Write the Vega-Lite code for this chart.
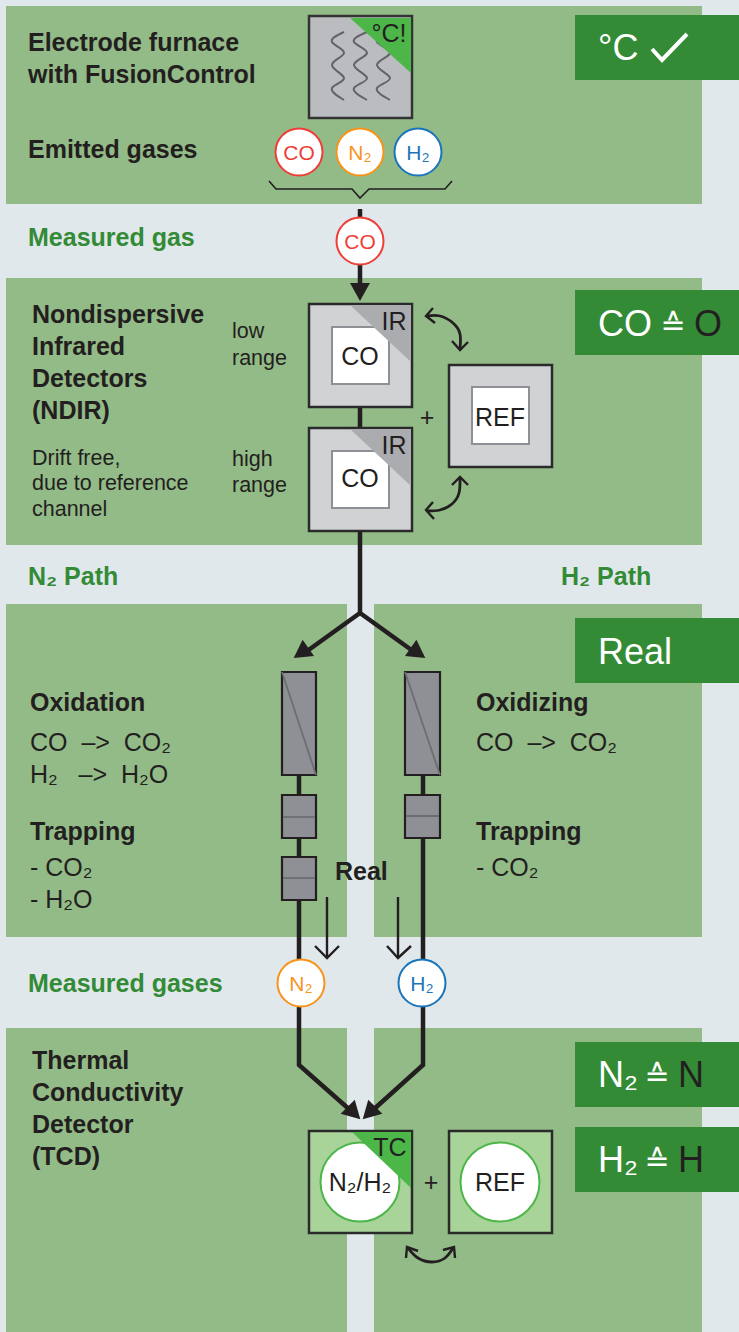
{"$schema":"https://vega.github.io/schema/vega-lite/v6.json","width":739,"height":1332,"padding":0,"autosize":{"type":"none"},"background":"#E1E8EC","config":{"view":{"stroke":null}},
"datasets":{
"panels":[{"x":6,"x2":702,"y":6,"y2":204},{"x":6,"x2":702,"y":278,"y2":545},{"x":6,"x2":347,"y":604,"y2":937},{"x":374,"x2":702,"y":604,"y2":937},{"x":6,"x2":347,"y":1028,"y2":1332},{"x":374,"x2":702,"y":1028,"y2":1332}],
"callouts":[{"x":575,"x2":739,"y":15,"y2":80},{"x":575,"x2":739,"y":290,"y2":355},{"x":575,"x2":739,"y":618,"y2":683},{"x":575,"x2":739,"y":1042,"y2":1107},{"x":575,"x2":739,"y":1127,"y2":1192}],
"thick":[{"id":"a","i":1,"x":360,"y":209},{"id":"a","i":2,"x":360,"y":285},{"id":"b","i":1,"x":360,"y":405},{"id":"b","i":2,"x":360,"y":430},{"id":"c","i":1,"x":360,"y":530},{"id":"c","i":2,"x":360,"y":613},{"id":"d","i":1,"x":303,"y":654},{"id":"d","i":2,"x":360,"y":613},{"id":"d","i":3,"x":417,"y":654},{"id":"e","i":1,"x":299,"y":775},{"id":"e","i":2,"x":299,"y":1065},{"id":"e","i":3,"x":350,"y":1110},{"id":"f","i":1,"x":423,"y":775},{"id":"f","i":2,"x":423,"y":1065},{"id":"f","i":3,"x":373,"y":1110}],
"heads":[{"x":360,"y":292,"a":0},{"x":301,"y":653,"a":55},{"x":418,"y":653,"a":-55},{"x":354,"y":1113,"a":-45},{"x":369,"y":1113,"a":45}],
"thin":[{"id":"a","i":1,"x":327,"y":897},{"id":"a","i":2,"x":327,"y":958},{"id":"b","i":1,"x":315,"y":946},{"id":"b","i":2,"x":327,"y":958},{"id":"b","i":3,"x":339,"y":946},{"id":"c","i":1,"x":398,"y":897},{"id":"c","i":2,"x":398,"y":958},{"id":"d","i":1,"x":387,"y":946},{"id":"d","i":2,"x":398,"y":958},{"id":"d","i":3,"x":411,"y":946},{"id":"e","i":1,"x":433,"y":308},{"id":"e","i":2,"x":426,"y":316},{"id":"e","i":3,"x":435,"y":323},{"id":"f","i":1,"x":452,"y":341},{"id":"f","i":2,"x":460,"y":350},{"id":"f","i":3,"x":468,"y":342},{"id":"g","i":1,"x":452,"y":485},{"id":"g","i":2,"x":460,"y":477},{"id":"g","i":3,"x":468,"y":485},{"id":"h","i":1,"x":433,"y":502},{"id":"h","i":2,"x":426,"y":510},{"id":"h","i":3,"x":434,"y":519},{"id":"j","i":1,"x":406,"y":1258},{"id":"j","i":2,"x":407,"y":1247},{"id":"j","i":3,"x":418,"y":1251},{"id":"k","i":1,"x":455,"y":1258},{"id":"k","i":2,"x":454,"y":1247},{"id":"k","i":3,"x":443,"y":1250}],
"curves":[{"id":"a","i":1,"x":427,"y":316},{"id":"a","i":2,"x":440,"y":316},{"id":"a","i":3,"x":453,"y":323},{"id":"a","i":4,"x":460,"y":334},{"id":"a","i":5,"x":460,"y":349},{"id":"b","i":1,"x":460,"y":478},{"id":"b","i":2,"x":459,"y":493},{"id":"b","i":3,"x":452,"y":504},{"id":"b","i":4,"x":440,"y":510},{"id":"b","i":5,"x":427,"y":511},{"id":"c","i":1,"x":408,"y":1248},{"id":"c","i":2,"x":418,"y":1258},{"id":"c","i":3,"x":432,"y":1262},{"id":"c","i":4,"x":445,"y":1258},{"id":"c","i":5,"x":453,"y":1248}],
"brace":[{"i":1,"x":269,"y":181},{"i":2,"x":276,"y":189},{"i":3,"x":352,"y":189},{"i":4,"x":360,"y":198},{"i":5,"x":369,"y":189},{"i":6,"x":445,"y":189},{"i":7,"x":452,"y":181}],
"furnace":[{"x":309,"x2":412,"y":16,"y2":118}],
"waves":[{"id":"a","i":1,"x":344,"y":32},{"id":"a","i":2,"x":332,"y":42},{"id":"a","i":3,"x":344,"y":53},{"id":"a","i":4,"x":332,"y":65},{"id":"a","i":5,"x":344,"y":78},{"id":"a","i":6,"x":332,"y":88},{"id":"a","i":7,"x":344,"y":100},{"id":"b","i":1,"x":367,"y":32},{"id":"b","i":2,"x":354,"y":42},{"id":"b","i":3,"x":367,"y":53},{"id":"b","i":4,"x":354,"y":65},{"id":"b","i":5,"x":367,"y":78},{"id":"b","i":6,"x":354,"y":88},{"id":"b","i":7,"x":367,"y":100},{"id":"c","i":1,"x":390,"y":32},{"id":"c","i":2,"x":377,"y":42},{"id":"c","i":3,"x":390,"y":53},{"id":"c","i":4,"x":377,"y":65},{"id":"c","i":5,"x":390,"y":78},{"id":"c","i":6,"x":377,"y":88},{"id":"c","i":7,"x":390,"y":100}],
"detectors":[{"x":309,"x2":412,"y":304,"y2":407},{"x":309,"x2":412,"y":428,"y2":531},{"x":449,"x2":552,"y":365,"y2":467}],
"inner":[{"x":332,"x2":389,"y":327,"y2":384},{"x":332,"x2":389,"y":451,"y2":508},{"x":472,"x2":529,"y":387,"y2":444}],
"tcboxes":[{"x":309,"x2":412,"y":1131,"y2":1233},{"x":449,"x2":552,"y":1131,"y2":1233}],
"tccircles":[{"x":360,"y":1182},{"x":500,"y":1182}],
"columns":[{"x":282,"x2":316,"y":672,"y2":775},{"x":405,"x2":440,"y":672,"y2":775},{"x":282,"x2":316,"y":795,"y2":838},{"x":405,"x2":440,"y":795,"y2":838},{"x":282,"x2":316,"y":857,"y2":900}],
"dividers":[{"id":"a","i":1,"x":282,"y":672},{"id":"a","i":2,"x":316,"y":775},{"id":"b","i":1,"x":405,"y":672},{"id":"b","i":2,"x":440,"y":775},{"id":"c","i":1,"x":283,"y":817},{"id":"c","i":2,"x":315,"y":817},{"id":"d","i":1,"x":283,"y":878},{"id":"d","i":2,"x":315,"y":878},{"id":"e","i":1,"x":406,"y":816},{"id":"e","i":2,"x":439,"y":816}],
"gases":[{"gas":"CO","t":"CO","x":299,"y":152},{"gas":"N2","t":"N₂","x":360,"y":152},{"gas":"H2","t":"H₂","x":418,"y":152},{"gas":"CO","t":"CO","x":360,"y":241},{"gas":"N2","t":"N₂","x":301,"y":983},{"gas":"H2","t":"H₂","x":422,"y":983}],
"triangles":[{"id":"f","kind":"hot","x":350,"y":18,"y2":18},{"id":"f","kind":"hot","x":411,"y":18,"y2":73},{"id":"i1","kind":"ir","x":350,"y":305,"y2":305},{"id":"i1","kind":"ir","x":411,"y":305,"y2":362},{"id":"i2","kind":"ir","x":350,"y":429,"y2":429},{"id":"i2","kind":"ir","x":411,"y":429,"y2":486},{"id":"t","kind":"hot","x":352,"y":1132,"y2":1132},{"id":"t","kind":"hot","x":411,"y":1132,"y2":1188}],
"check":[{"i":1,"x":652,"y":49},{"i":2,"x":662,"y":60},{"i":3,"x":687,"y":34}],
"boldDark":[{"t":"Electrode furnace","x":28,"y":51},{"t":"with FusionControl","x":28,"y":83},{"t":"Emitted gases","x":28,"y":158},{"t":"Nondispersive","x":32,"y":323},{"t":"Infrared","x":32,"y":355},{"t":"Detectors","x":32,"y":387},{"t":"(NDIR)","x":32,"y":419},{"t":"Oxidation","x":30,"y":711},{"t":"Trapping","x":30,"y":840},{"t":"Oxidizing","x":476,"y":711},{"t":"Trapping","x":476,"y":840},{"t":"Real","x":335,"y":880},{"t":"Thermal","x":32,"y":1069},{"t":"Conductivity","x":32,"y":1101},{"t":"Detector","x":32,"y":1133},{"t":"(TCD)","x":32,"y":1165}],
"boldGreen":[{"t":"Measured gas","x":28,"y":246},{"t":"N₂ Path","x":28,"y":585},{"t":"H₂ Path","x":561,"y":585},{"t":"Measured gases","x":28,"y":992}],
"small":[{"t":"low","x":232,"y":338},{"t":"range","x":232,"y":365},{"t":"high","x":232,"y":466},{"t":"range","x":232,"y":492},{"t":"Drift free,","x":32,"y":465},{"t":"due to reference","x":32,"y":490},{"t":"channel","x":32,"y":516}],
"medium":[{"t":"CO\u00a0\u00a0–>\u00a0\u00a0CO₂","x":30,"y":751},{"t":"H₂\u00a0\u00a0\u00a0–>\u00a0\u00a0H₂O","x":30,"y":783},{"t":"- CO₂","x":30,"y":876},{"t":"- H₂O","x":30,"y":908},{"t":"CO\u00a0\u00a0–>\u00a0\u00a0CO₂","x":476,"y":751},{"t":"- CO₂","x":476,"y":876}],
"centered":[{"t":"°C!","x":389,"y":42},{"t":"IR","x":394,"y":330},{"t":"IR","x":394,"y":454},{"t":"CO","x":360,"y":365},{"t":"CO","x":360,"y":487},{"t":"REF","x":500,"y":426},{"t":"+","x":427,"y":426},{"t":"TC","x":390,"y":1156},{"t":"N₂/H₂","x":360,"y":1191},{"t":"REF","x":500,"y":1191},{"t":"+","x":431,"y":1191}],
"calloutWhite":[{"t":"°C","x":598,"y":60},{"t":"CO","x":598,"y":336},{"t":"Real","x":598,"y":664},{"t":"N₂","x":598,"y":1087},{"t":"H₂","x":598,"y":1172}],
"calloutDark":[{"t":"O","x":694,"y":336},{"t":"N","x":678,"y":1087},{"t":"H","x":678,"y":1172}],
"equals":[{"t":"≙","x":673,"y":335},{"t":"≙","x":657,"y":1086},{"t":"≙","x":657,"y":1171}]
},
"encoding":{"x":{"field":"x","type":"quantitative","axis":null,"scale":{"domain":[0,739],"nice":false,"zero":false}},"y":{"field":"y","type":"quantitative","axis":null,"scale":{"domain":[0,1332],"nice":false,"zero":false,"reverse":true}}},
"layer":[
{"data":{"name":"panels"},"mark":{"type":"rect","fill":"#93BB87"},"encoding":{"x2":{"field":"x2"},"y2":{"field":"y2"}}},
{"data":{"name":"thick"},"mark":{"type":"line","stroke":"#231F20","strokeWidth":4.5,"strokeJoin":"miter"},"encoding":{"detail":{"field":"id"},"order":{"field":"i"}}},
{"data":{"name":"heads"},"mark":{"type":"point","filled":true,"fill":"#231F20","opacity":1,"size":440,"shape":"M-0.95,-0.85L0.95,-0.85L0,0.85Z"},"encoding":{"angle":{"field":"a","type":"quantitative","scale":null}}},
{"data":{"name":"callouts"},"mark":{"type":"rect","fill":"#338B36"},"encoding":{"x2":{"field":"x2"},"y2":{"field":"y2"}}},
{"data":{"name":"thin"},"mark":{"type":"line","stroke":"#231F20","strokeWidth":2.4},"encoding":{"detail":{"field":"id"},"order":{"field":"i"}}},
{"data":{"name":"curves"},"mark":{"type":"line","stroke":"#231F20","strokeWidth":2.8,"interpolate":"natural"},"encoding":{"detail":{"field":"id"},"order":{"field":"i"}}},
{"data":{"name":"brace"},"mark":{"type":"line","stroke":"#231F20","strokeWidth":1.6},"encoding":{"order":{"field":"i"}}},
{"data":{"name":"furnace"},"mark":{"type":"rect","fill":"#BBBCC0","stroke":"#333333","strokeWidth":2.5},"encoding":{"x2":{"field":"x2"},"y2":{"field":"y2"}}},
{"data":{"name":"waves"},"mark":{"type":"line","stroke":"#626366","strokeWidth":2,"interpolate":"natural"},"encoding":{"detail":{"field":"id"},"order":{"field":"i"}}},
{"data":{"name":"detectors"},"mark":{"type":"rect","fill":"#D1D2D4","stroke":"#2A2A2A","strokeWidth":2.5},"encoding":{"x2":{"field":"x2"},"y2":{"field":"y2"}}},
{"data":{"name":"inner"},"mark":{"type":"rect","fill":"#FFFFFF","stroke":"#8F9095","strokeWidth":2},"encoding":{"x2":{"field":"x2"},"y2":{"field":"y2"}}},
{"data":{"name":"tcboxes"},"mark":{"type":"rect","fill":"#A8D49A","stroke":"#2A2A2A","strokeWidth":2.5},"encoding":{"x2":{"field":"x2"},"y2":{"field":"y2"}}},
{"data":{"name":"tccircles"},"mark":{"type":"point","filled":true,"fill":"#FFFFFF","stroke":"#4CB648","strokeWidth":2,"opacity":1,"size":6240,"shape":"circle"}},
{"data":{"name":"columns"},"mark":{"type":"rect","fill":"#8F9095","stroke":"#231F20","strokeWidth":2.2},"encoding":{"x2":{"field":"x2"},"y2":{"field":"y2"}}},
{"data":{"name":"dividers"},"mark":{"type":"line","stroke":"#6D6E71","strokeWidth":1.8},"encoding":{"detail":{"field":"id"},"order":{"field":"i"}}},
{"data":{"name":"gases"},"mark":{"type":"point","filled":true,"fill":"#FFFFFF","strokeWidth":2,"opacity":1,"size":2209,"shape":"circle"},"encoding":{"stroke":{"field":"gas","type":"nominal","legend":null,"scale":{"domain":["CO","N2","H2"],"range":["#EE3E38","#F7941D","#1B75BB"]}}}},
{"data":{"name":"gases"},"mark":{"type":"text","font":"Liberation Sans","fontSize":21,"align":"center","baseline":"alphabetic","dy":8},"encoding":{"text":{"field":"t"},"color":{"field":"gas","type":"nominal","legend":null,"scale":{"domain":["CO","N2","H2"],"range":["#EE3E38","#F7941D","#1B75BB"]}}}},
{"data":{"name":"triangles"},"mark":{"type":"area","opacity":1},"encoding":{"y2":{"field":"y2"},"detail":{"field":"id"},"fill":{"field":"kind","type":"nominal","legend":null,"scale":{"domain":["hot","ir"],"range":["#4CB648","#ABACAF"]}}}},
{"data":{"name":"check"},"mark":{"type":"line","stroke":"#FFFFFF","strokeWidth":4},"encoding":{"order":{"field":"i"}}},
{"data":{"name":"boldDark"},"mark":{"type":"text","font":"Liberation Sans","fontWeight":"bold","fontSize":25,"align":"left","baseline":"alphabetic","fill":"#231F20"},"encoding":{"text":{"field":"t"}}},
{"data":{"name":"boldGreen"},"mark":{"type":"text","font":"Liberation Sans","fontWeight":"bold","fontSize":25,"align":"left","baseline":"alphabetic","fill":"#338B36"},"encoding":{"text":{"field":"t"}}},
{"data":{"name":"small"},"mark":{"type":"text","font":"Liberation Sans","fontSize":21.5,"align":"left","baseline":"alphabetic","fill":"#231F20"},"encoding":{"text":{"field":"t"}}},
{"data":{"name":"medium"},"mark":{"type":"text","font":"Liberation Sans","fontSize":25,"align":"left","baseline":"alphabetic","fill":"#231F20"},"encoding":{"text":{"field":"t"}}},
{"data":{"name":"centered"},"mark":{"type":"text","font":"Liberation Sans","fontSize":25,"align":"center","baseline":"alphabetic","fill":"#231F20"},"encoding":{"text":{"field":"t"}}},
{"data":{"name":"calloutWhite"},"mark":{"type":"text","font":"Liberation Sans","fontSize":36,"align":"left","baseline":"alphabetic","fill":"#FFFFFF"},"encoding":{"text":{"field":"t"}}},
{"data":{"name":"calloutDark"},"mark":{"type":"text","font":"Liberation Sans","fontSize":36,"align":"left","baseline":"alphabetic","fill":"#231F20"},"encoding":{"text":{"field":"t"}}},
{"data":{"name":"equals"},"mark":{"type":"text","font":"DejaVu Sans","fontSize":30,"align":"center","baseline":"alphabetic","fill":"#FFFFFF"},"encoding":{"text":{"field":"t"}}}
]}
